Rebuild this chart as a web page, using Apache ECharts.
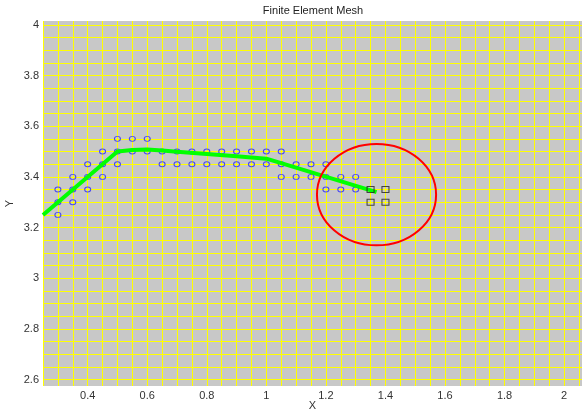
<!DOCTYPE html>
<html><head><meta charset="utf-8">
<script src="https://cdn.jsdelivr.net/npm/echarts@6/dist/echarts.min.js"></script>
<style>html,body{margin:0;padding:0;background:#fff}#c{width:582px;height:412px}</style>
</head><body><div id="c"></div>
<script>
// ---- data ----
const titleText = 'Finite Element Mesh';
const xName = 'X';
const yName = 'Y';
const xTickLabels = [0.4, 0.6, 0.8, 1, 1.2, 1.4, 1.6, 1.8, 2];
const yTickLabels = [2.6, 2.8, 3, 3.2, 3.4, 3.6, 3.8, 4];
const xRange = [0.25, 2.06];
const yRange = [2.575, 4.015];
const gridStep = 0.05;
// interior mesh nodes (blue circles)
const meshNodes = [
  [0.3, 3.35], [0.3, 3.3], [0.3, 3.25],
  [0.35, 3.4], [0.35, 3.35], [0.35, 3.3],
  [0.4, 3.45], [0.4, 3.4], [0.4, 3.35],
  [0.45, 3.5], [0.45, 3.45], [0.45, 3.4],
  [0.5, 3.55], [0.5, 3.5], [0.5, 3.45],
  [0.55, 3.55], [0.55, 3.5],
  [0.6, 3.55], [0.6, 3.5],
  [0.65, 3.5], [0.65, 3.45],
  [0.7, 3.5], [0.7, 3.45],
  [0.75, 3.5], [0.75, 3.45],
  [0.8, 3.5], [0.8, 3.45],
  [0.85, 3.5], [0.85, 3.45],
  [0.9, 3.5], [0.9, 3.45],
  [0.95, 3.5], [0.95, 3.45],
  [1.0, 3.5], [1.0, 3.45],
  [1.05, 3.5], [1.05, 3.45], [1.05, 3.4],
  [1.1, 3.45], [1.1, 3.4],
  [1.15, 3.45], [1.15, 3.4],
  [1.2, 3.45], [1.2, 3.4], [1.2, 3.35],
  [1.25, 3.4], [1.25, 3.35],
  [1.3, 3.4], [1.3, 3.35]
];
// boundary nodes (black squares)
const boundaryNodes = [[1.35, 3.35], [1.4, 3.35], [1.35, 3.3], [1.4, 3.3]];
// green path curve
const pathX = [0.25, 0.5, 0.55, 0.6, 0.65, 0.7, 0.8, 0.9, 1.0, 1.37];
const pathY = [3.25, 3.5, 3.506, 3.508, 3.504, 3.499, 3.49, 3.481, 3.472, 3.34];
// red circle: center x, center y, radius (data units)
const circleX = [1.37];
const circleY = [3.33];
const circleR = [0.2];

// ---- chart ----
function isTick(v, ticks) { return ticks.some(t => Math.abs(t - v) < 1e-6); }

const labelStyle = { color: '#333', fontSize: 11, fontFamily: 'Liberation Sans, Arial, sans-serif' };
const gridColor = '#ffff00';

const chart = echarts.init(document.getElementById('c'), null, { renderer: 'canvas' });
chart.setOption({
  animation: false,
  backgroundColor: '#ffffff',
  title: {
    text: titleText, left: 313, top: 5, textAlign: 'center', padding: 0,
    textStyle: { fontSize: 11, fontWeight: 'normal', color: '#222', fontFamily: 'Liberation Sans, Arial, sans-serif' }
  },
  grid: { left: 43, right: 0, top: 21, bottom: 26, show: true, backgroundColor: '#c8c8c8', borderWidth: 0,
          containLabel: false, outerBoundsMode: 'none' },
  xAxis: {
    type: 'value', min: xRange[0], max: xRange[1], interval: gridStep,
    name: xName, nameLocation: 'middle', nameGap: 14, nameMoveOverlap: false, nameTextStyle: labelStyle,
    axisLine: { show: false }, axisTick: { show: false },
    splitLine: { show: true, lineStyle: { color: gridColor, width: 1 } },
    axisLabel: { ...labelStyle, margin: 4, formatter: v => isTick(v, xTickLabels) ? String(+v.toFixed(2)) : '' }
  },
  yAxis: {
    type: 'value', min: yRange[0], max: yRange[1], interval: gridStep / 2,
    name: yName, nameLocation: 'middle', nameGap: 28, nameRotate: 90, nameMoveOverlap: false, nameTextStyle: labelStyle,
    axisLine: { show: false }, axisTick: { show: false },
    splitLine: { show: true, lineStyle: { color: ['rgba(0,0,0,0)', gridColor], width: 1 } },
    axisLabel: { ...labelStyle, margin: 4, formatter: v => isTick(v, yTickLabels) ? String(+v.toFixed(2)) : '' }
  },
  series: [
    {
      type: 'scatter', data: meshNodes, symbol: 'circle', symbolSize: [6, 5], z: 3, silent: true,
      itemStyle: { color: 'rgba(0,0,0,0)', borderColor: '#2828ff', borderWidth: 1 }
    },
    {
      type: 'line', data: pathX.map((x, i) => [x, pathY[i]]), showSymbol: false, symbol: 'none', z: 4, silent: true,
      lineStyle: { color: '#00ff00', width: 4 }
    },
    {
      type: 'custom', z: 5, silent: true,
      data: circleX.map((x, i) => [x, circleY[i], circleR[i]]),
      renderItem: function (params, api) {
        const c = api.coord([api.value(0), api.value(1)]);
        const s = api.size([api.value(2), api.value(2)]);
        return { type: 'ellipse', shape: { cx: c[0], cy: c[1], rx: s[0], ry: s[1] },
          style: { fill: 'none', stroke: '#ff0000', lineWidth: 2 } };
      }
    },
    {
      type: 'scatter', data: boundaryNodes, symbol: 'rect', symbolSize: [7, 6], z: 6, silent: true,
      itemStyle: { color: 'rgba(0,0,0,0)', borderColor: '#222', borderWidth: 1 }
    }
  ]
});
</script></body></html>
